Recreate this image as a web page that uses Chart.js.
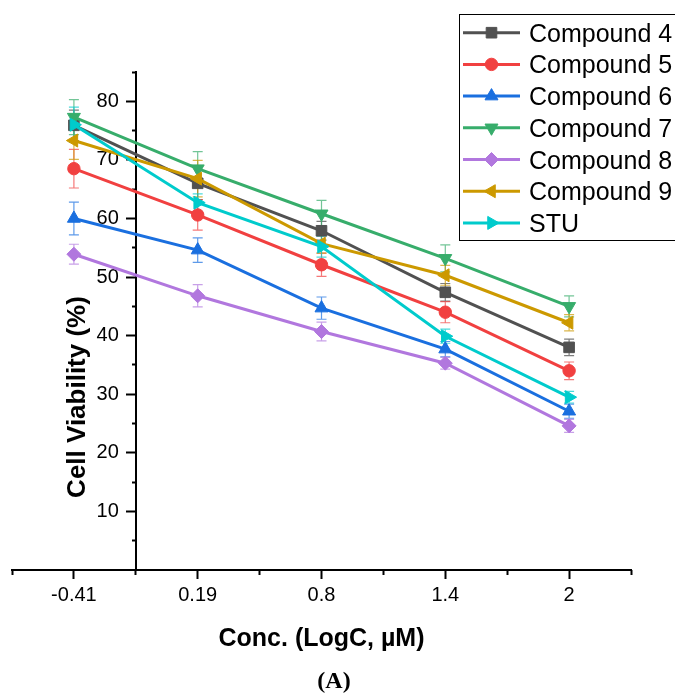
<!DOCTYPE html>
<html>
<head>
<meta charset="utf-8">
<script src="https://cdn.jsdelivr.net/npm/chart.js@4/dist/chart.umd.min.js"></script>
<style>
html,body{margin:0;padding:0;background:#fff;}
#wrap{position:relative;width:675px;height:697px;}
</style>
</head>
<body>
<div id="wrap"><canvas id="c"></canvas></div>
<script>
// ---- data ----
const categories = ['-0.41', '0.19', '0.8', '1.4', '2'];
const seriesNames = ['Compound 4', 'Compound 5', 'Compound 6', 'Compound 7', 'Compound 8', 'Compound 9', 'STU'];

const compound4 = [75.9, 66.0, 57.9, 47.4, 38.0];
const compound5 = [68.5, 60.6, 52.1, 44.0, 34.0];
const compound6 = [60.0, 54.6, 44.7, 37.7, 27.1];
const compound7 = [77.3, 68.5, 60.8, 53.2, 45.0];
const compound8 = [53.9, 46.8, 40.7, 35.3, 24.6];
const compound9 = [73.3, 66.8, 55.7, 50.3, 42.2];
const stu       = [76.0, 62.7, 55.2, 39.9, 29.5];

const compound4Err = [2.6, 2.8, 1.6, 1.5, 1.4];
const compound5Err = [3.3, 2.6, 2.0, 1.8, 1.5];
const compound6Err = [2.8, 2.1, 1.9, 1.3, 1.2];
const compound7Err = [3.0, 2.9, 2.3, 2.3, 1.8];
const compound8Err = [1.7, 1.9, 1.6, 1.0, 1.1];
const compound9Err = [3.2, 3.1, 1.6, 1.7, 1.4];
const stuErr       = [3.0, 1.5, 1.8, 1.2, 1.0];

const yMajorTicks = [10, 20, 30, 40, 50, 60, 70, 80];
const yMinorTicks = [5, 15, 25, 35, 45, 55, 65, 75, 85];

// ---- styling ----
const seriesValues = [compound4, compound5, compound6, compound7, compound8, compound9, stu];
const seriesErrors = [compound4Err, compound5Err, compound6Err, compound7Err, compound8Err, compound9Err, stuErr];
const colors = ['#515151', '#F14040', '#1A6FDF', '#37AD6B', '#B177DE', '#CC9900', '#00CBCC'];
const errColors = ['rgba(81,81,81,0.75)', 'rgba(241,64,64,0.7)', 'rgba(26,111,223,0.7)', 'rgba(55,173,107,0.7)', 'rgba(177,119,222,0.7)', 'rgba(204,153,0,0.7)', 'rgba(0,203,204,0.7)'];
const pointStyles = ['rect', 'circle', 'triangle', 'triangle', 'rectRot', 'triangle', 'triangle'];
const pointRotations = [0, 0, 0, 180, 0, 270, 90];
const pointRadii = [7.5, 6.2, 7.5, 7.5, 7, 7.5, 7.5];

const FONT = 'Arial, "Liberation Sans", sans-serif';
Chart.defaults.font.family = FONT;
Chart.defaults.color = '#000';

const datasets = seriesNames.map((name, i) => ({
  label: name,
  data: categories.map((c, j) => ({ x: j, y: seriesValues[i][j] })),
  errors: seriesErrors[i],
  errColor: errColors[i],
  borderColor: colors[i],
  backgroundColor: colors[i],
  pointBackgroundColor: colors[i],
  pointBorderColor: colors[i],
  pointStyle: pointStyles[i],
  pointRotation: pointRotations[i],
  pointRadius: pointRadii[i],
  pointHoverRadius: pointRadii[i],
  pointBorderWidth: 1,
  borderWidth: 3,
  tension: 0,
  fill: false,
  order: seriesNames.length - i,
  xAxisID: 'x',
  yAxisID: 'y'
}));

const errorBarPlugin = {
  id: 'errorBars',
  beforeDatasetsDraw(chart) {
    const ctx = chart.ctx;
    const xs = chart.scales.x, ys = chart.scales.y;
    chart.data.datasets.forEach(ds => {
      ctx.save();
      ctx.strokeStyle = ds.errColor;
      ctx.lineWidth = 1.2;
      ds.data.forEach((p, j) => {
        const e = ds.errors[j];
        const px = xs.getPixelForValue(p.x);
        const top = ys.getPixelForValue(p.y + e);
        const bot = ys.getPixelForValue(p.y - e);
        ctx.beginPath();
        ctx.moveTo(px, top); ctx.lineTo(px, bot);
        ctx.moveTo(px - 5, top); ctx.lineTo(px + 5, top);
        ctx.moveTo(px - 5, bot); ctx.lineTo(px + 5, bot);
        ctx.stroke();
      });
      ctx.restore();
    });
  }
};

// y axis sits inside the plot (at x = 0.5); move its tick labels to the left of the tick marks
const yLabelShiftPlugin = {
  id: 'yLabelShift',
  beforeDraw(chart) {
    const ys = chart.scales.y;
    const items = ys.getLabelItems(chart.chartArea);
    items.forEach(it => {
      if (!it._shifted) {
        it.options.translation[0] -= (ys.options.grid.tickLength + ys.options.ticks.padding);
        it._shifted = true;
      }
    });
  }
};

const annotationPlugin = {
  id: 'texts',
  afterDraw(chart) {
    const ctx = chart.ctx;
    const xs = chart.scales.x;
    ctx.save();
    // x title
    ctx.fillStyle = '#000';
    ctx.font = 'bold 25px ' + FONT;
    ctx.textAlign = 'center';
    ctx.textBaseline = 'alphabetic';
    ctx.fillText('Conc. (LogC, \u00B5M)', (xs.left + xs.right) / 2, 646);
    // y title
    ctx.save();
    ctx.font = 'bold 26px ' + FONT;
    ctx.translate(85, 397);
    ctx.rotate(-Math.PI / 2);
    ctx.fillText('Cell Viability (%)', 0, 0);
    ctx.restore();
    // panel label
    ctx.font = 'bold 24px "Liberation Serif", "Times New Roman", serif';
    ctx.fillText('(A)', 334, 688);
    // legend
    const lx = 459.5, ly = 14.5;
    ctx.strokeStyle = '#000';
    ctx.lineWidth = 1;
    ctx.strokeRect(lx, ly, 300, 226);
    ctx.font = '25px ' + FONT;
    ctx.textAlign = 'left';
    chart.data.datasets.forEach((ds, i) => {
      const y = 32.7 + i * 31.7;
      ctx.strokeStyle = ds.borderColor;
      ctx.lineWidth = 3;
      ctx.beginPath();
      ctx.moveTo(463, y); ctx.lineTo(520, y);
      ctx.stroke();
      ctx.fillStyle = ds.borderColor;
      ctx.lineWidth = 1;
      if (Chart.helpers && Chart.helpers.drawPoint) {
        Chart.helpers.drawPoint(ctx, { pointStyle: ds.pointStyle, rotation: ds.pointRotation, radius: ds.pointRadius, borderWidth: 1 }, 491.5, y);
      }
      ctx.fillStyle = '#000';
      ctx.fillText(ds.label, 529, y + 9);
    });
    ctx.restore();
  }
};

const xLabel = v => {
  const idx = Math.round(v);
  return (Math.abs(v - idx) < 1e-6 && categories[idx] !== undefined) ? categories[idx] : '';
};

new Chart(document.getElementById('c'), {
  type: 'line',
  data: { datasets },
  options: {
    responsive: true,
    maintainAspectRatio: false,
    animation: false,
    events: [],
    layout: { padding: { left: 12, right: 44, top: 72, bottom: 127 } },
    plugins: { legend: { display: false }, title: { display: false }, tooltip: { enabled: false } },
    scales: {
      x: {
        type: 'linear', min: -0.5, max: 4.5,
        position: { y: 0 },
        afterBuildTicks: s => { s.ticks = categories.map((c, j) => ({ value: j })); },
        ticks: { callback: v => xLabel(v), font: { size: 20 }, color: '#000', padding: 5, maxRotation: 0, autoSkip: false },
        grid: { drawOnChartArea: false, drawTicks: true, tickLength: 8, tickWidth: 2, tickColor: '#000' },
        border: { display: true, color: '#000', width: 2 }
      },
      x2: {
        type: 'linear', min: -0.5, max: 4.5,
        position: { y: 0 },
        afterBuildTicks: s => { s.ticks = [-0.5, 0.5, 1.5, 2.5, 3.5, 4.5].map(v => ({ value: v })); },
        ticks: { display: false },
        grid: { drawOnChartArea: false, drawTicks: true, tickLength: 5, tickWidth: 2, tickColor: '#000' },
        border: { display: false }
      },
      y: {
        type: 'linear', min: 0, max: 85,
        position: { x: 0.5 },
        afterBuildTicks: s => { s.ticks = yMajorTicks.map(v => ({ value: v })); },
        ticks: { font: { size: 20 }, color: '#000', padding: 8, autoSkip: false },
        grid: { drawOnChartArea: false, drawTicks: true, tickLength: 9, tickWidth: 2, tickColor: '#000' },
        border: { display: true, color: '#000', width: 2 }
      },
      y2: {
        type: 'linear', min: 0, max: 85,
        position: { x: 0.5 },
        afterBuildTicks: s => { s.ticks = yMinorTicks.map(v => ({ value: v })); },
        ticks: { display: false },
        grid: { drawOnChartArea: false, drawTicks: true, tickLength: 4, tickWidth: 2, tickColor: '#000' },
        border: { display: false }
      }
    }
  },
  plugins: [errorBarPlugin, yLabelShiftPlugin, annotationPlugin]
});
</script>
</body>
</html>
